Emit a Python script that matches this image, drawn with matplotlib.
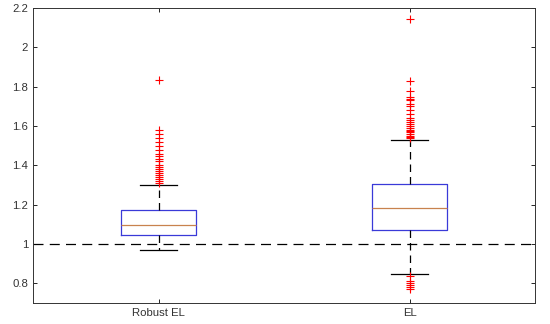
import matplotlib
matplotlib.use("Agg")
import matplotlib.pyplot as plt

labels = ["Robust EL", "EL"]

# five-number summaries
q1 = [1.046, 1.072]
med = [1.098, 1.185]
q3 = [1.172, 1.303]
whislo = [0.968, 0.848]
whishi = [1.298, 1.527]

robust_outliers = [1.835, 1.58, 1.56, 1.54, 1.52, 1.50, 1.48, 1.46, 1.45, 1.43, 1.42,
                   1.40, 1.39, 1.38, 1.37, 1.36, 1.35, 1.34, 1.33, 1.32, 1.31]
el_outliers = [2.145, 1.83, 1.78, 1.75, 1.74, 1.73, 1.71, 1.70, 1.68, 1.66, 1.64, 1.63,
               1.62, 1.61, 1.60, 1.59, 1.58, 1.575, 1.57, 1.56, 1.55, 1.545, 1.54,
               0.835, 0.81, 0.80, 0.79, 0.78, 0.77]
outliers = [robust_outliers, el_outliers]

yticks = [0.8, 1, 1.2, 1.4, 1.6, 1.8, 2, 2.2]
ytick_labels = ["0.8", "1", "1.2", "1.4", "1.6", "1.8", "2", "2.2"]

plt.rcParams['font.family'] = ['Liberation Sans', 'DejaVu Sans']

stats = []
for i in range(len(labels)):
    stats.append(dict(label=labels[i], q1=q1[i], med=med[i], q3=q3[i],
                      whislo=whislo[i], whishi=whishi[i], fliers=outliers[i]))

fig = plt.figure(figsize=(5.5, 3.24), dpi=100)
ax = fig.add_axes([0.06, 0.065, 0.913, 0.91])

ax.axhline(1, color="black", lw=0.9, ls=(0, (8, 5)), zorder=1)

ax.bxp(stats, positions=[1, 2], widths=0.3,
       boxprops=dict(color="#3a3ad8", lw=0.9),
       medianprops=dict(color="#c8824e", lw=0.9),
       whiskerprops=dict(color="black", lw=0.9, ls=(0, (6, 4))),
       capprops=dict(color="black", lw=0.9),
       capwidths=0.15,
       flierprops=dict(marker="+", markeredgecolor="red", markersize=6, mew=0.8))

ax.set_xlim(0.5, 2.5)
ax.set_ylim(0.7, 2.2)
ax.set_yticks(yticks)
ax.set_yticklabels(ytick_labels)
ax.set_xticks([1, 2])
ax.set_xticklabels(labels)
ax.tick_params(direction="in", top=True, right=True, labelsize=8.2,
               labelcolor="#333333", length=3, width=0.6)
for s in ax.spines.values():
    s.set_linewidth(0.7)
    s.set_color("#333333")

plt.savefig("out.png", dpi=100)
